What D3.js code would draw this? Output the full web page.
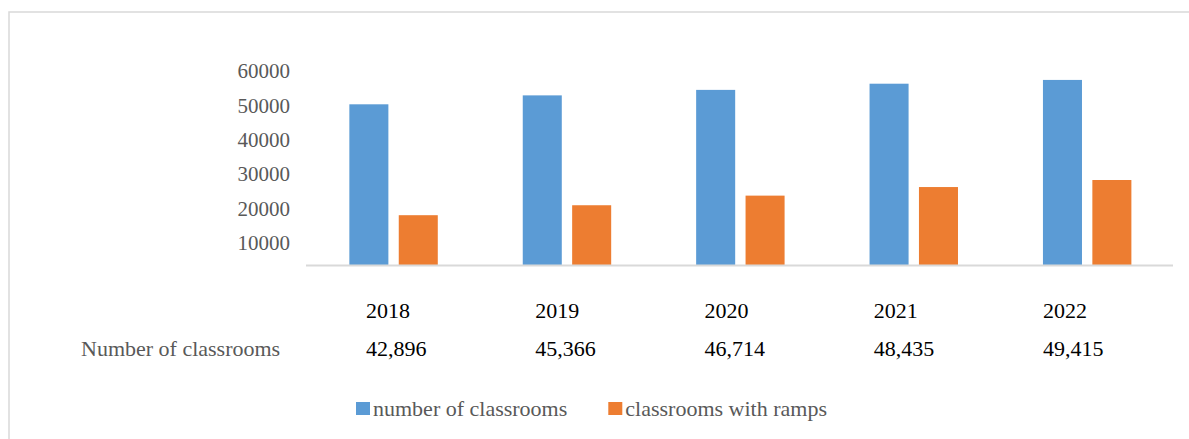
<!DOCTYPE html>
<html>
<head>
<meta charset="utf-8">
<style>
    body { margin: 0; background: #fff; }
    svg { display: block; font-family: "Liberation Serif", "Times New Roman", serif; }
    .tick text { fill: #595959; font-size: 21px; font-family: "Liberation Serif", "Times New Roman", serif; }
</style>
<script src="https://d3js.org/d3.v7.min.js"></script>
</head>
<body>
<svg width="1189" height="439"></svg>
<script>
// data
var years = ["2018", "2019", "2020", "2021", "2022"];
var seriesNames = ["number of classrooms", "classrooms with ramps"];
var classrooms = [50300, 52900, 54500, 56300, 57400];
var withRamps = [18000, 20900, 23700, 26200, 28250];
var tableLabels = ["42,896", "45,366", "46,714", "48,435", "49,415"];
var yTicks = [10000, 20000, 30000, 40000, 50000, 60000];
var axisFloor = 3500;   // value where the category line sits

var colors = ["#5b9bd5", "#ed7d31"];

var svg = d3.select("svg");

// outer frame (only top and left visible)
svg.append("path")
   .attr("d", "M9,439V12H1189")
   .attr("fill", "none")
   .attr("stroke", "#d9d9d9")
   .attr("stroke-width", 1.5);

var x0 = d3.scaleBand().domain(years).range([306, 1173]);
var bw = x0.bandwidth();
var x1 = d3.scaleBand().domain(seriesNames).range([bw * 0.25, bw * 0.76]).paddingInner(0.21);
var y = d3.scaleLinear().domain([0, 60000]).range([277, 71]);

// y axis labels only
svg.append("g")
   .attr("transform", "translate(306,0)")
   .call(d3.axisLeft(y).tickValues(yTicks).tickSize(0).tickPadding(16).tickFormat(d3.format("d")))
   .attr("font-family", null)
   .attr("font-size", null)
   .call(function(g){ g.select(".domain").remove(); });

var rows = years.map(function(yr, i){
    return { year: yr, values: [classrooms[i], withRamps[i]] };
});

var groups = svg.selectAll(".grp")
    .data(rows)
    .enter().append("g")
    .attr("class", "grp")
    .attr("transform", function(d){ return "translate(" + x0(d.year) + ",0)"; });

groups.selectAll("rect")
    .data(function(d){ return d.values.map(function(v, k){ return { s: seriesNames[k], v: v, k: k }; }); })
    .enter().append("rect")
    .attr("x", function(d){ return x1(d.s); })
    .attr("y", function(d){ return y(d.v); })
    .attr("width", x1.bandwidth())
    .attr("height", function(d){ return y(axisFloor) - y(d.v); })
    .attr("fill", function(d){ return colors[d.k]; });

// category line
svg.append("line")
   .attr("x1", 306).attr("x2", 1173)
   .attr("y1", y(axisFloor) + 0.5).attr("y2", y(axisFloor) + 0.5)
   .attr("stroke", "#d9d9d9")
   .attr("stroke-width", 2);

// table below the chart
var tx = d3.scalePoint().domain(years).range([366, 1043]);

svg.selectAll(".yr")
    .data(years)
    .enter().append("text")
    .attr("class", "yr")
    .attr("x", function(d){ return tx(d); })
    .attr("y", 310)
    .attr("dy", "0.35em")
    .attr("font-size", 22)
    .attr("fill", "#000")
    .text(function(d){ return d; });

svg.selectAll(".val")
    .data(tableLabels)
    .enter().append("text")
    .attr("class", "val")
    .attr("x", function(d, i){ return tx(years[i]); })
    .attr("y", 348)
    .attr("dy", "0.35em")
    .attr("font-size", 22)
    .attr("fill", "#000")
    .text(function(d){ return d; });

svg.append("text")
   .attr("x", 81)
   .attr("y", 348)
   .attr("dy", "0.35em")
   .attr("font-size", 22)
   .attr("fill", "#595959")
   .text("Number of classrooms");

// legend
var lx = 356;
seriesNames.forEach(function(name, k){
    svg.append("rect")
       .attr("x", lx).attr("y", 402)
       .attr("width", 14).attr("height", 13)
       .attr("fill", colors[k]);
    var t = svg.append("text")
       .attr("x", lx + 17)
       .attr("y", 408)
       .attr("dy", "0.35em")
       .attr("font-size", 22)
       .attr("fill", "#595959")
       .text(name);
    lx = lx + 17 + t.node().getComputedTextLength() + 41;
});
</script>
</body>
</html>
